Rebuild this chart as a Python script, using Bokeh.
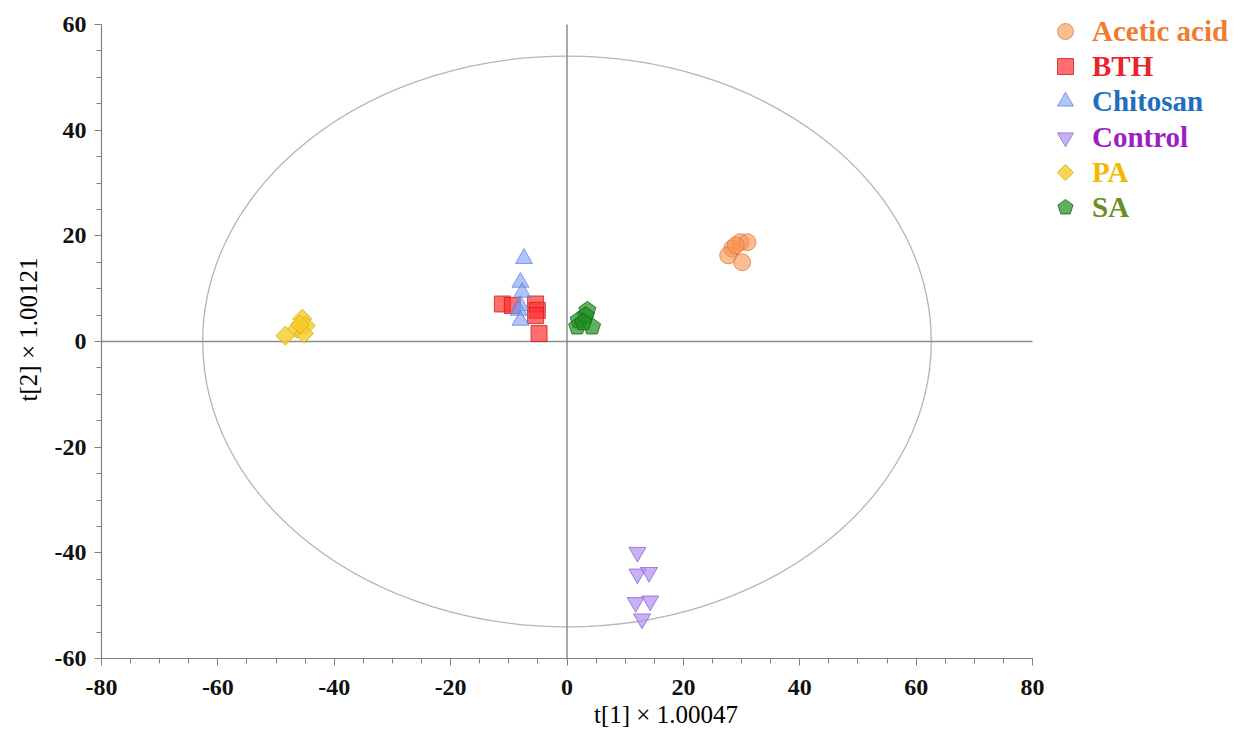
from bokeh.plotting import figure
from bokeh.models import Legend, LegendItem, FixedTicker
from bokeh.embed import file_html
from bokeh.resources import INLINE

# ---- data ----
groups = ["Acetic acid", "BTH", "Chitosan", "Control", "PA", "SA"]

acetic_x = [28.4, 29.8, 31.0, 27.7, 30.1, 29.0]
acetic_y = [17.6, 18.8, 18.8, 16.3, 15.0, 18.2]

bth_x = [-11.1, -9.4, -5.4, -5.1, -5.4, -4.8]
bth_y = [7.1, 6.8, 7.1, 5.9, 4.9, 1.5]

chitosan_x = [-7.4, -8.0, -7.7, -8.0, -8.3, -8.0]
chitosan_y = [15.7, 11.2, 9.3, 6.8, 5.9, 4.0]

control_x = [12.1, 12.1, 14.1, 11.8, 14.3, 12.9]
control_y = [-39.9, -44.0, -43.7, -49.4, -49.1, -52.5]

pa_x = [-48.4, -46.4, -45.5, -44.9, -45.2, -45.9]
pa_y = [1.1, 2.4, 4.3, 3.0, 1.5, 3.2]

sa_x = [3.5, 3.2, 2.0, 1.75, 4.3, 2.8]
sa_y = [5.9, 4.9, 4.0, 2.8, 2.8, 3.6]

ellipse_rx = 62.6
ellipse_ry = 54.0

x_ticks = [-80, -60, -40, -20, 0, 20, 40, 60, 80]
y_ticks = [-60, -40, -20, 0, 20, 40, 60]

fill_colors = ["#f7934f", "#ff3030", "#7b9cf5", "#b48ef0", "#f6cc2a", "#1f8c1f"]
line_colors = ["#e07030", "#c82020", "#5a7ee0", "#8f66d8", "#d9a800", "#0f6a0f"]
text_colors = ["#ed7d31", "#e8232b", "#1f6fbf", "#9c1ec4", "#f5b800", "#6b8e23"]

SERIF = "Liberation Serif"

# axes area: 931 x 634 px for 160 x 120 units; frame extended right/top to hold the legend
XMIN, XMAX = x_ticks[0], x_ticks[-1]
YMIN, YMAX = y_ticks[0], y_ticks[-1]
px_x = 931 / (XMAX - XMIN)
px_y = 634 / (YMAX - YMIN)
LEFT, BOTTOM = 101, 70
FW, FH = 1129, 658

p = figure(frame_width=FW, frame_height=FH,
           x_range=(XMIN, XMIN + FW / px_x), y_range=(YMIN, YMIN + FH / px_y),
           output_backend="svg", toolbar_location=None,
           min_border_left=LEFT, min_border_top=0, min_border_right=0, min_border_bottom=BOTTOM,
           background_fill_color="white", border_fill_color="white")
p.outline_line_color = None
p.grid.visible = False

# ellipse
p.ellipse(x=[0], y=[0], width=[2 * ellipse_rx], height=[2 * ellipse_ry],
          fill_alpha=0, line_color="#b5b5b5", line_width=1.3)

# zero lines across the axes extent
p.segment(x0=[0, XMIN], y0=[YMIN, 0], x1=[0, XMAX], y1=[YMAX, 0],
          line_color="#8c8c8c", line_width=1.5)

renderers = []
r = p.scatter(acetic_x, acetic_y, marker="circle", size=17,
              fill_color=fill_colors[0], fill_alpha=0.6, line_color=line_colors[0], line_alpha=0.7)
renderers.append(r)
r = p.scatter(bth_x, bth_y, marker="square", size=16,
              fill_color=fill_colors[1], fill_alpha=0.7, line_color=line_colors[1], line_alpha=0.8)
renderers.append(r)
r = p.scatter(chitosan_x, chitosan_y, marker="triangle", size=17,
              fill_color=fill_colors[2], fill_alpha=0.6, line_color=line_colors[2], line_alpha=0.7)
renderers.append(r)
r = p.scatter(control_x, control_y, marker="inverted_triangle", size=17,
              fill_color=fill_colors[3], fill_alpha=0.7, line_color=line_colors[3], line_alpha=0.8)
renderers.append(r)
try:
    r = p.ngon(x=pa_x, y=pa_y, radius=9.5, radius_units="screen", n=4, angle=0,
               fill_color=fill_colors[4], fill_alpha=0.8, line_color=line_colors[4], line_alpha=0.8)
except Exception:
    r = p.scatter(pa_x, pa_y, marker="diamond", size=20,
                  fill_color=fill_colors[4], fill_alpha=0.8, line_color=line_colors[4], line_alpha=0.8)
renderers.append(r)
try:
    r = p.ngon(x=sa_x, y=sa_y, radius=9, radius_units="screen", n=5, angle=0,
               fill_color=fill_colors[5], fill_alpha=0.7, line_color=line_colors[5], line_alpha=0.8)
except Exception:
    r = p.scatter(sa_x, sa_y, marker="hex", size=17,
                  fill_color=fill_colors[5], fill_alpha=0.7, line_color=line_colors[5], line_alpha=0.8)
renderers.append(r)

# axes
for ax in (p.xaxis[0], p.yaxis[0]):
    ax.axis_line_color = "#808080"
    ax.axis_line_width = 1.2
    ax.major_tick_line_color = "#808080"
    ax.minor_tick_line_color = "#808080"
    ax.major_tick_out = 7
    ax.major_tick_in = 0
    ax.minor_tick_out = 5
    ax.minor_tick_in = 0
    ax.major_label_text_font = SERIF
    ax.major_label_text_font_style = "bold"
    ax.major_label_text_font_size = "24px"
    ax.major_label_text_color = "#111111"
    ax.axis_label_text_font = SERIF
    ax.axis_label_text_font_style = "normal"
    ax.axis_label_text_font_size = "25px"
    ax.axis_label_text_color = "#000000"

p.xaxis.bounds = (XMIN, XMAX)
p.yaxis.bounds = (YMIN, YMAX)
p.xaxis.ticker = FixedTicker(ticks=x_ticks, minor_ticks=list(range(XMIN, XMAX + 1, 5)))
p.yaxis.ticker = FixedTicker(ticks=y_ticks, minor_ticks=list(range(YMIN, YMAX + 1, 5)))
p.xaxis.major_label_overrides = {t: str(t) for t in x_ticks}
p.yaxis.major_label_overrides = {t: str(t) for t in y_ticks}
p.xaxis.axis_label = "t[1] × 1.00047"
p.yaxis.axis_label = "t[2] × 1.00121"
p.xaxis.major_label_standoff = 14
p.yaxis.major_label_standoff = 8
p.xaxis.axis_label_standoff = 3
p.yaxis.axis_label_standoff = 10

# legends, one per group (each with its own text colour)
row_centers = [31, 66, 101, 137, 172, 207]  # px from top of canvas
GH = 40
for i, g in enumerate(groups):
    lg = Legend(items=[LegendItem(label=g, renderers=[renderers[i]])],
                location=(944, FH - row_centers[i] - GH // 2),
                padding=0, margin=0, spacing=0,
                glyph_width=GH, glyph_height=GH, label_height=30,
                label_standoff=7,
                border_line_alpha=0, background_fill_alpha=0,
                label_text_font=SERIF, label_text_font_style="bold",
                label_text_font_size="29px", label_text_color=text_colors[i])
    p.add_layout(lg, "center")

open("out.html", "w").write(file_html(p, INLINE))
